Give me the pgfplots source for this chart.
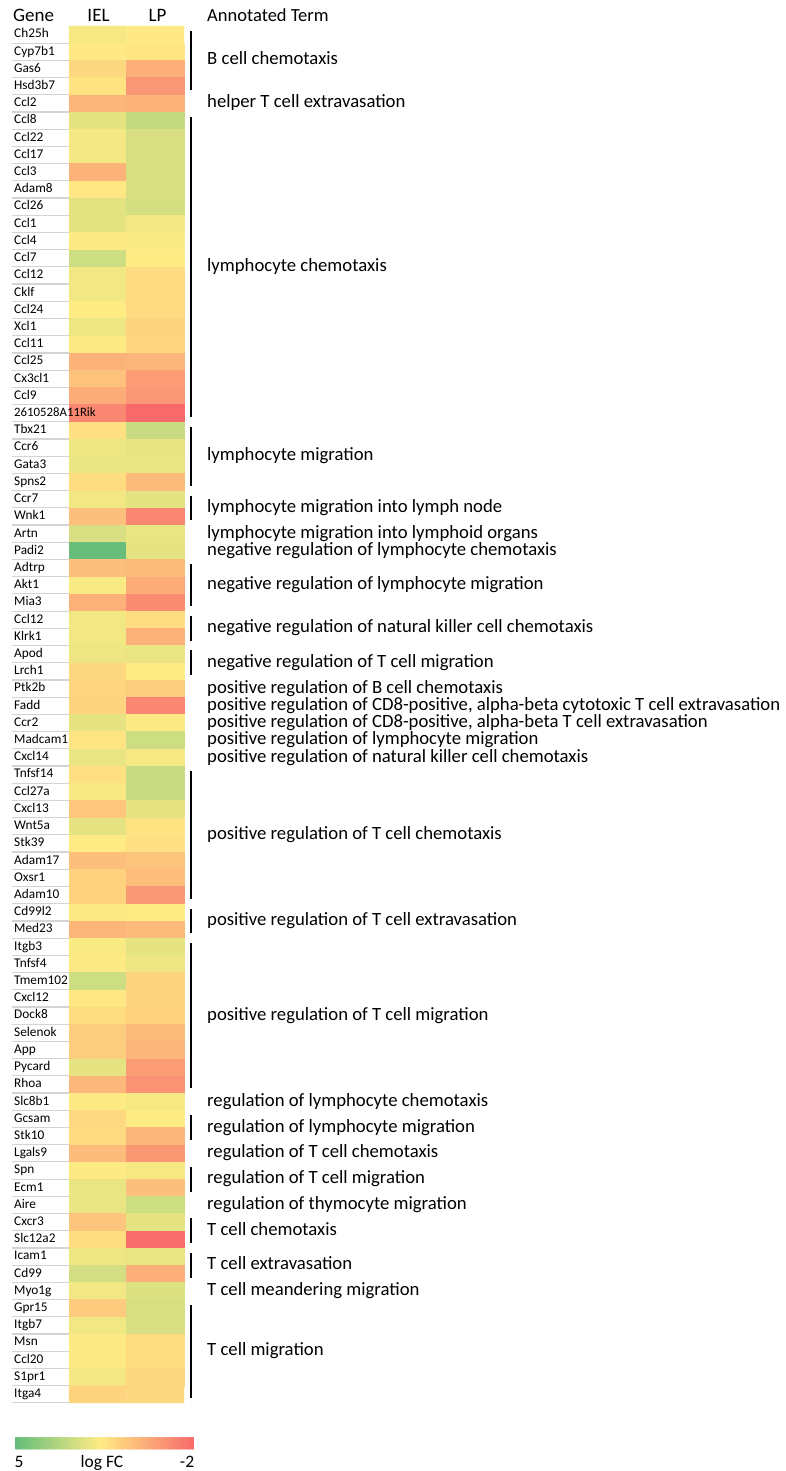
\documentclass[border=0pt]{standalone}
\usepackage{fontspec}
\setmainfont{Carlito}
\usepackage{pgfplots}
\pgfplotsset{compat=1.18}
\newcommand\genefont{\fontsize{13.3}{13.3}\selectfont}
\newcommand\annfont{\fontsize{18.7}{18.7}\selectfont}
\newcommand\ann[2]{\node[anchor=base west, font=\annfont, yshift=-4.5pt, inner sep=0pt] at (axis cs:1.9,#1) {#2};}
\newcommand\grp[2]{\draw[line width=1.7pt] (axis cs:1.622,#1-0.5+0.28) -- (axis cs:1.622,#2+0.5-0.28);}
\begin{document}
\begin{tikzpicture}
\useasboundingbox (0,0) rectangle (785pt,1471pt);
\begin{axis}[
  at={(69pt,1445pt)}, anchor=north west,
  scale only axis, width=115pt, height=1377pt,
  xmin=-0.5, xmax=1.5, ymin=0.5, ymax=80.5, y dir=reverse,
  clip=false,
  axis line style={draw=none},
  major tick length=0pt,
  xtick=\empty,
  ytick={1,...,80},
  yticklabels={Ch25h,Cyp7b1,Gas6,Hsd3b7,Ccl2,Ccl8,Ccl22,Ccl17,Ccl3,Adam8,Ccl26,Ccl1,Ccl4,Ccl7,Ccl12,Cklf,Ccl24,Xcl1,Ccl11,Ccl25,Cx3cl1,Ccl9,{\fontsize{12.8}{12.8}\selectfont 2610528A11Rik},Tbx21,Ccr6,Gata3,Spns2,Ccr7,Wnk1,Artn,Padi2,Adtrp,Akt1,Mia3,Ccl12,Klrk1,Apod,Lrch1,Ptk2b,Fadd,Ccr2,Madcam1,Cxcl14,Tnfsf14,Ccl27a,Cxcl13,Wnt5a,Stk39,Adam17,Oxsr1,Adam10,Cd99l2,Med23,Itgb3,Tnfsf4,Tmem102,Cxcl12,Dock8,Selenok,App,Pycard,Rhoa,Slc8b1,Gcsam,Stk10,Lgals9,Spn,Ecm1,Aire,Cxcr3,Slc12a2,Icam1,Cd99,Myo1g,Gpr15,Itgb7,Msn,Ccl20,S1pr1,Itga4},
  yticklabel style={anchor=west, xshift=-57pt, inner xsep=2pt, inner ysep=0pt,
    text width=53pt, align=left, minimum height=17.21pt, text height=10pt, text depth=3.5pt,
    font=\genefont,
    path picture={\draw[line width=1.4pt, black!17] (path picture bounding box.south west) -- (path picture bounding box.south east);}},
  colormap={excel}{rgb255(0pt)=(248,105,107); rgb255(37pt)=(255,235,132); rgb255(70pt)=(99,190,123)},
  point meta min=-2, point meta max=5,
  colorbar horizontal,
  colorbar sampled,
  colorbar style={
    samples=120,
    at={(parent axis.south west)}, anchor=north west,
    xshift=-54pt, yshift=-26pt,
    scale only axis, width=179pt, height=12pt,
    x dir=reverse,
    axis line style={draw=none},
    major tick length=0pt,
    xtick={4.84,1.6,-1.73},
    xticklabels={5,log FC,-2},
    xticklabel pos=lower,
    xticklabel style={font=\fontsize{17.5}{17.5}\selectfont, inner sep=0pt, text height=11.3pt, text depth=3pt, yshift=-7pt},
    ytick=\empty,
  },
]
\addplot[matrix plot, mesh/cols=2, point meta=explicit] table[meta=v] {
x y v
0 1 1.9
1 1 1.65
0 2 1.65
1 2 1.55
0 3 1.15
1 3 0.0
0 4 1.45
1 4 -0.7
0 5 0.15
1 5 0.1
0 6 2.3
1 6 2.95
0 7 1.95
1 7 2.55
0 8 1.95
1 8 2.55
0 9 0.1
1 9 2.55
0 10 1.6
1 10 2.55
0 11 2.3
1 11 2.6
0 12 2.3
1 12 2.0
0 13 1.75
1 13 1.8
0 14 2.75
1 14 1.7
0 15 2.0
1 15 1.25
0 16 2.0
1 16 1.25
0 17 1.7
1 17 1.25
0 18 2.1
1 18 1.05
0 19 1.75
1 19 1.1
0 20 0.1
1 20 0.15
0 21 0.55
1 21 -0.55
0 22 -0.1
1 22 -0.7
0 23 -1.15
1 23 -2.0
0 24 1.35
1 24 2.85
0 25 2.1
1 25 2.2
0 26 2.15
1 26 2.15
0 27 1.3
1 27 0.3
0 28 2.0
1 28 2.3
0 29 0.45
1 29 -1.15
0 30 2.55
1 30 2.15
0 31 4.9
1 31 2.25
0 32 0.45
1 32 0.35
0 33 1.8
1 33 -0.1
0 34 0.05
1 34 -1.0
0 35 2.0
1 35 1.3
0 36 2.0
1 36 0.05
0 37 2.05
1 37 2.15
0 38 1.15
1 38 1.7
0 39 1.1
1 39 0.85
0 40 1.05
1 40 -1.15
0 41 2.25
1 41 1.75
0 42 1.5
1 42 2.75
0 43 2.15
1 43 1.9
0 44 1.4
1 44 2.85
0 45 1.85
1 45 2.85
0 46 0.7
1 46 2.25
0 47 2.25
1 47 1.45
0 48 1.7
1 48 1.35
0 49 0.45
1 49 0.6
0 50 1.0
1 50 0.4
0 51 1.0
1 51 -0.7
0 52 1.75
1 52 1.7
0 53 0.2
1 53 0.3
0 54 1.8
1 54 2.25
0 55 1.75
1 55 2.05
0 56 2.75
1 56 1.05
0 57 1.6
1 57 1.05
0 58 1.3
1 58 1.0
0 59 0.85
1 59 0.3
0 60 0.85
1 60 0.2
0 61 2.25
1 61 -0.55
0 62 0.25
1 62 -0.8
0 63 1.75
1 63 1.9
0 64 1.2
1 64 1.7
0 65 1.25
1 65 0.2
0 66 0.35
1 66 -0.65
0 67 1.75
1 67 1.9
0 68 2.15
1 68 0.45
0 69 2.15
1 69 2.75
0 70 0.6
1 70 2.25
0 71 1.3
1 71 -1.9
0 72 2.05
1 72 2.15
0 73 2.65
1 73 0.0
0 74 2.0
1 74 2.45
0 75 0.8
1 75 2.55
0 76 2.0
1 76 2.55
0 77 1.75
1 77 1.3
0 78 1.75
1 78 1.3
0 79 1.95
1 79 1.15
0 80 1.05
1 80 1.15
};
\grp{1}{4}   \ann{2.5}{B cell chemotaxis}
             \ann{5}{helper T cell extravasation}
\grp{6}{23}  \ann{14.5}{lymphocyte chemotaxis}
\grp{24}{27} \ann{25.5}{lymphocyte migration}
\grp{28}{29} \ann{28.5}{lymphocyte migration into lymph node}
             \ann{30}{lymphocyte migration into lymphoid organs}
             \ann{31}{negative regulation of lymphocyte chemotaxis}
\grp{32}{34} \ann{33}{negative regulation of lymphocyte migration}
\grp{35}{36} \ann{35.5}{negative regulation of natural killer cell chemotaxis}
\grp{37}{38} \ann{37.5}{negative regulation of T cell migration}
             \ann{39}{positive regulation of B cell chemotaxis}
             \ann{40}{positive regulation of CD8-positive, alpha-beta cytotoxic T cell extravasation}
             \ann{41}{positive regulation of CD8-positive, alpha-beta T cell extravasation}
             \ann{42}{positive regulation of lymphocyte migration}
             \ann{43}{positive regulation of natural killer cell chemotaxis}
\grp{44}{51} \ann{47.5}{positive regulation of T cell chemotaxis}
\grp{52}{53} \ann{52.5}{positive regulation of T cell extravasation}
\grp{54}{62} \ann{58}{positive regulation of T cell migration}
             \ann{63}{regulation of lymphocyte chemotaxis}
\grp{64}{65} \ann{64.5}{regulation of lymphocyte migration}
             \ann{66}{regulation of T cell chemotaxis}
\grp{67}{68} \ann{67.5}{regulation of T cell migration}
             \ann{69}{regulation of thymocyte migration}
\grp{70}{71} \ann{70.5}{T cell chemotaxis}
\grp{72}{73} \ann{72.5}{T cell extravasation}
             \ann{74}{T cell meandering migration}
\grp{75}{80} \ann{77.5}{T cell migration}
\end{axis}
\node[anchor=base west, font=\fontsize{19}{19}\selectfont, inner sep=0pt] at (13pt,1449pt) {Gene};
\node[anchor=base, font=\fontsize{19}{19}\selectfont, inner sep=0pt] at (98.5pt,1449pt) {IEL};
\node[anchor=base, font=\fontsize{19}{19}\selectfont, inner sep=0pt] at (157.5pt,1449pt) {LP};
\node[anchor=base west, font=\fontsize{18.5}{18.5}\selectfont, inner sep=0pt] at (207pt,1449pt) {Annotated Term};
\end{tikzpicture}
\end{document}
